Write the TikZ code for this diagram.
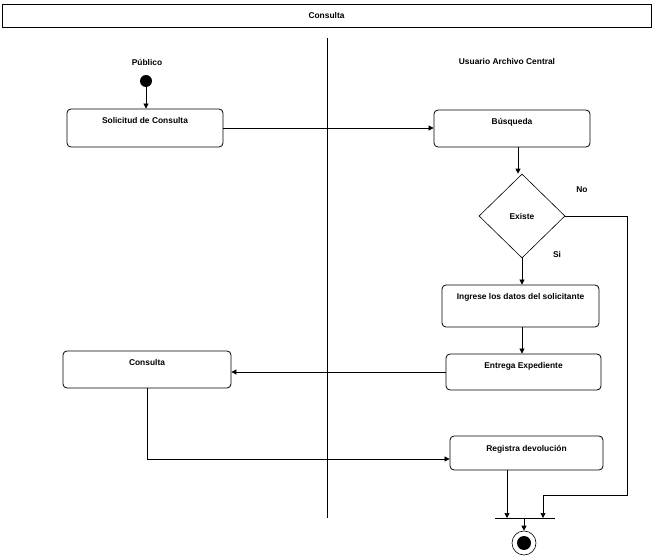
\documentclass[tikz,border=0pt]{standalone}
\usepackage{fontspec}
\setmainfont{Liberation Sans}
\usepackage{tikz}
\usetikzlibrary{positioning,shapes.geometric,arrows.meta}

\begin{document}
\begin{tikzpicture}[
x=1pt, y=-1pt,
font=\fontsize{8.4}{10}\selectfont\bfseries,
actbox/.style={rectangle, draw=black, rounded corners=4pt, line width=0.8pt, inner xsep=2pt, inner ysep=0pt, text height=15pt, text depth=#1},
decnode/.style={diamond, draw=black, line width=0.6pt, aspect=1, inner sep=0pt, minimum width=86pt, minimum height=84pt},
startnode/.style={circle, fill=black, minimum size=12pt, inner sep=0pt},
endnode/.style={circle, draw=black, line width=0.6pt, minimum size=24pt, inner sep=0pt, path picture={\fill (path picture bounding box.center) circle (7pt);}},
joinbar/.style={rectangle, fill=black, minimum width=60pt, minimum height=1pt, inner sep=0pt},
flow/.style={line width=0.7pt, -{Triangle[length=5pt, width=5pt]}},
]
\useasboundingbox (0,0) rectangle (654,556);

%Frame
\node[draw=black, line width=0.8pt, minimum width=649pt, minimum height=23pt, inner sep=0pt] (title) at (326.5,15.5) {Consulta};
\draw[line width=0.6pt] (327,38) -- (327,518);

%Nodes
\node (publico) at (147,62) {Público};
\node (usuario) at (507,62) {Usuario Archivo Central};
\node[startnode] (start) at (146,81) {};

\node[actbox=23pt, minimum width=156pt] (solic) at (145,128) {Solicitud de Consulta};
\node[actbox=22pt, minimum width=156pt] (busq)  at (512,128.5) {Búsqueda};
\node[decnode] (exist) at (522,216) {Existe};
\node[actbox=27pt, minimum width=157pt] (ingr)  at (520.5,306) {Ingrese los datos del solicitante};
\node[actbox=21pt, minimum width=155pt] (entr)  at (523.5,372) {Entrega Expediente};
\node[actbox=22pt, minimum width=168pt] (cons)  at (147,369.5) {Consulta};
\node[actbox=19pt, minimum width=153pt] (regis) at (526.5,453) {Registra devolución};

\node[joinbar] (join) at (525,518) {};
\node[endnode] (fin) at (524,543) {};

\node (no) at (582,190) {No};
\node (si) at (557,254) {Si};

\coordinate (j1) at (507,518);
\coordinate (j2) at (543,518);
\coordinate (nobend) at (627,495);

%Lines
\draw[flow] (start) -- (solic.north -| start);
\draw[flow] (solic.east) -- (solic.east -| busq.west);
\draw[flow] (busq.south -| 518,0) -- (exist.north -| 518,0);
\draw[flow] (exist.south) -- (exist.south |- ingr.north);
\draw[flow] (ingr.south -| exist.south) -- (entr.north -| exist.south);
\draw[flow] (entr.west) -- (entr.west -| cons.east);
\draw[flow] (cons.south) |- ([yshift=-6pt]regis.west);
\draw[flow] (exist.east) -| (nobend) -| (j2);
\draw[flow] (regis.south -| j1) -- (j1);
\draw[flow] (join.south -| fin.north) -- (fin.north);

\end{tikzpicture}
\end{document}
